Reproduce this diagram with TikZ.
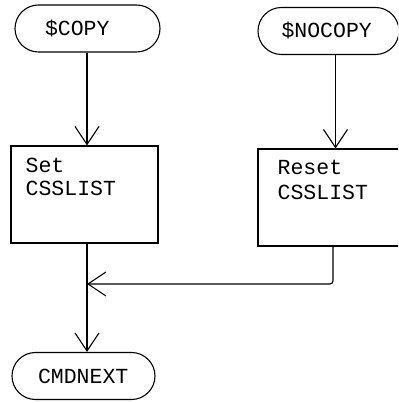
\documentclass[tikz,border=0pt]{standalone}
\usepackage{fontspec}
\setmonofont{Liberation Mono}
\usetikzlibrary{arrows.meta,positioning,shapes.misc}
\tikzset{
  termbox/.style={
    draw,
    rounded rectangle,
    line width=1.1pt,
    inner sep=0pt,
    minimum height=47pt,
    font=\fontsize{21.5}{23}\selectfont\ttfamily
  },
  procbox/.style={
    draw,
    rectangle,
    line width=1.1pt,
    inner sep=0pt,
    minimum height=97pt
  },
  proctext/.style={
    anchor=north west,
    align=left,
    inner sep=0pt,
    font=\fontsize{21.5}{23}\selectfont\ttfamily
  },
  flowarrow/.style={-{Straight Barb[length=18pt,width=24pt,line width=1.1pt]}, line width=1.1pt},
  flowline/.style={line width=1.1pt, rounded corners=3pt}
}
\begin{document}
\begin{tikzpicture}[x=1pt,y=1pt]
\clip (0,0) rectangle (398,403);
\fill[white] (0,0) rectangle (398,403);

\node[termbox, minimum width=145pt] (copy) at (87.5,374.5) {\makebox[85pt][l]{\$COPY}};
\node[termbox, minimum width=141pt] (nocopy) at (328.5,372) {\makebox[94pt][l]{\$NOCOPY}};

\node[procbox, minimum width=147pt] (setb) at (84.5,208.5) {};
\node[proctext] (settext) at ([shift={(15,-12)}]setb.north west) {Set\\CSSLIST};
\node[procbox, minimum width=150pt] (resetb) at (333,205.5) {};
\node[proctext] (resettext) at ([shift={(20,-12)}]resetb.north west) {Reset\\[2pt]CSSLIST};

\node[termbox, minimum width=143pt] (cmdnext) at (83.5,27) {\makebox[91pt][l]{CMDNEXT}};

\coordinate (merge) at (87,119);

\draw[flowarrow] (copy.south -| merge) -- (setb.north -| merge);
\draw[flowarrow] ([xshift=7pt]nocopy.south) -- ([xshift=7pt]nocopy.south |- resetb.north);
\draw[line width=1.1pt] (setb.south -| merge) -- (merge);
\draw[flowarrow] (merge) -- (merge |- cmdnext.north);
\draw[flowline, flowarrow] (resetb.south) -- (resetb.south |- merge) -- (merge);
\end{tikzpicture}
\end{document}
